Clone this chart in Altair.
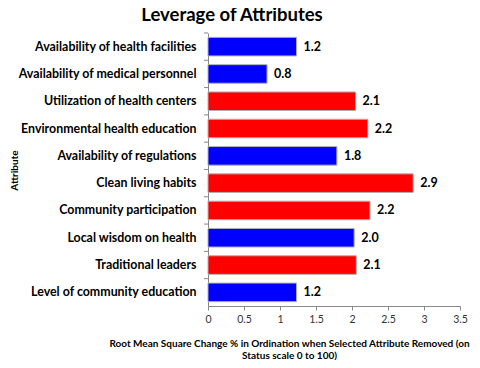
import altair as alt
import pandas as pd

attributes = [
    "Availability of health facilities",
    "Availability of medical personnel",
    "Utilization of health centers",
    "Environmental health education",
    "Availability of regulations",
    "Clean living habits",
    "Community participation",
    "Local wisdom on health",
    "Traditional leaders",
    "Level of community education",
]
values = [1.23, 0.82, 2.05, 2.22, 1.79, 2.85, 2.25, 2.03, 2.06, 1.23]
value_labels = ["1.2", "0.8", "2.1", "2.2", "1.8", "2.9", "2.2", "2.0", "2.1", "1.2"]
groups = ["blue", "blue", "red", "red", "blue", "red", "red", "blue", "red", "blue"]
x_ticks = [0, 0.5, 1, 1.5, 2, 2.5, 3, 3.5]
x_tick_labels = ["0", "0.5", "1", "1.5", "2", "2.5", "3", "3.5"]

df = pd.DataFrame({
    "attribute": attributes,
    "value": values,
    "label": value_labels,
    "group": groups,
})

FONT = "Lato"

label_expr = "[" + ",".join("'%s'" % s for s in x_tick_labels) + "][round(datum.value*2)]"

x_axis = alt.Axis(
    values=x_ticks,
    labelExpr=label_expr,
    title=["Root Mean Square Change % in Ordination when Selected Attribute Removed (on",
           "Status scale 0 to 100)"],
    titleFont=FONT, titleFontSize=10, titleFontWeight="bold", titleColor="black",
    titleX=81, titleY=32, titleAlign="center", titleBaseline="top", titleLineHeight=12.5,
    labelFont=FONT, labelFontSize=10.5, labelColor="#333", labelPadding=4,
    labelFlush=False,
    grid=False, domainColor="#888", tickColor="#888", tickSize=4,
)
x_scale = alt.Scale(domain=[0, 3.5], nice=False)

y_axis = alt.Axis(
    title="Attribute", titleFont=FONT, titleFontSize=10, titleFontWeight="bold",
    titleColor="black", titleAngle=270, titleX=-194, titleY=137,
    titleAlign="center", titleBaseline="middle",
    labelFont=FONT, labelFontSize=12.4, labelFontWeight="bold", labelColor="black",
    labelPadding=12, labelLimit=300, ticks=False, domainColor="#888",
)
y_scale = alt.Scale(paddingInner=0.32, paddingOuter=0.16)


def x_enc():
    return alt.X("value:Q", scale=x_scale, axis=x_axis)


def y_enc(**kw):
    return alt.Y("attribute:N", sort=attributes, scale=y_scale, axis=y_axis, **kw)


bars = alt.Chart(df).mark_bar(stroke="#b0b0b0", strokeWidth=1).encode(
    x=x_enc(),
    y=y_enc(),
    color=alt.Color("group:N", scale=alt.Scale(domain=["blue", "red"], range=["#0000FF", "#FF0000"]), legend=None),
)

text = alt.Chart(df).mark_text(
    align="left", baseline="middle", dx=7, font=FONT, fontSize=12.5, fontWeight="bold", color="black"
).encode(
    x=x_enc(),
    y=y_enc(),
    text="label:N",
)

ticks_layer = alt.Chart(df).mark_rule(color="#888", strokeWidth=1, yOffset=-4.4).encode(
    y=y_enc(bandPosition=0),
    x=alt.value(-4),
    x2=alt.value(0),
)

chart = alt.layer(bars, text, ticks_layer).properties(
    width=252,
    height=273,
    autosize=alt.AutoSizeParams(type="none"),
    padding={"left": 200, "top": 25, "right": 12, "bottom": 54},
    title=alt.TitleParams(
        "Leverage of Attributes", font=FONT, fontSize=18.5, fontWeight="bold", color="black",
        anchor="middle", dx=-102, offset=8,
    ),
).configure_view(stroke=None)

chart.save("out.html", embed_options={"renderer": "svg", "actions": False})
